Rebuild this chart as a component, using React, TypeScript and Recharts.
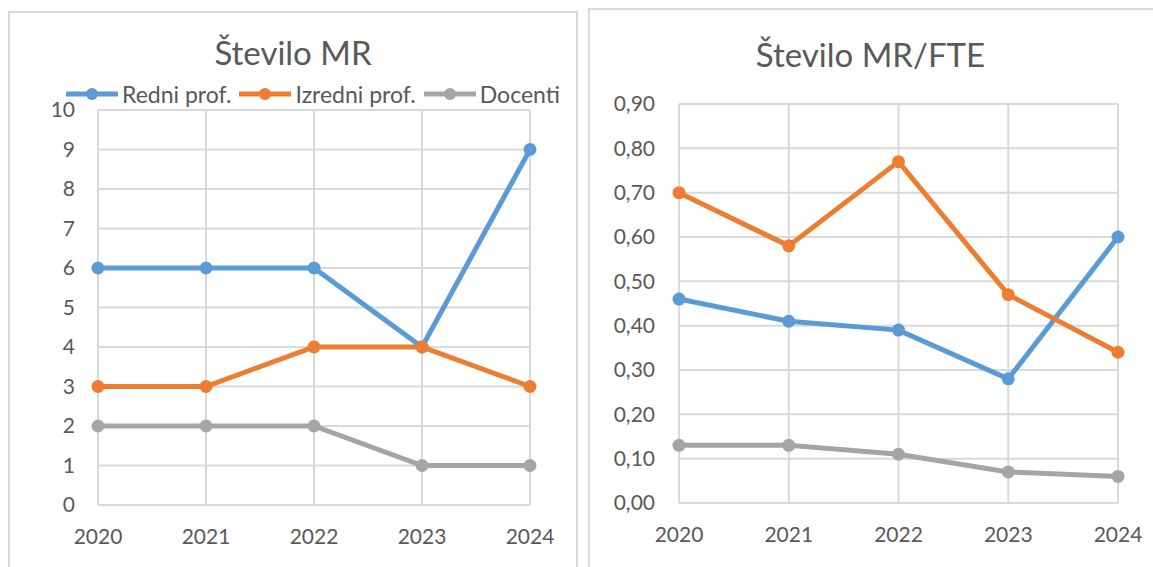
import { ReactElement } from "react";
import { CartesianGrid, Line, LineChart, XAxis, YAxis } from "recharts";

const years = ["2020", "2021", "2022", "2023", "2024"];

const redniCount = [6, 6, 6, 4, 9];
const izredniCount = [3, 3, 4, 4, 3];
const docentiCount = [2, 2, 2, 1, 1];

const redniFte = [0.46, 0.41, 0.39, 0.28, 0.6];
const izredniFte = [0.7, 0.58, 0.77, 0.47, 0.34];
const docentiFte = [0.13, 0.13, 0.11, 0.07, 0.06];

const countTicks = [0, 1, 2, 3, 4, 5, 6, 7, 8, 9, 10];
const fteTicks = [0, 0.1, 0.2, 0.3, 0.4, 0.5, 0.6, 0.7, 0.8, 0.9];

const seriesNames = ["Redni prof.", "Izredni prof.", "Docenti"];
const colors = ["#5B9BD5", "#ED7D31", "#A5A5A5"];
const keys = ["redni", "izredni", "docenti"];

const font = "Lato, 'Open Sans', sans-serif";
const textColor = "#595959";
const gridColor = "#D9D9D9";

const countData = years.map((y, i) => ({
  year: y,
  redni: redniCount[i],
  izredni: izredniCount[i],
  docenti: docentiCount[i],
}));

const fteData = years.map((y, i) => ({
  year: y,
  redni: redniFte[i],
  izredni: izredniFte[i],
  docenti: docentiFte[i],
}));

const tickStyle = { fill: textColor, fontSize: 21, fontFamily: font };

function LegendRow(): ReactElement {
  return (
    <div style={{ position: "absolute", left: 66, top: 80, display: "flex", alignItems: "center", fontFamily: font, fontSize: 23, color: textColor, whiteSpace: "nowrap" }}>
      {seriesNames.map((n, i) => (
        <div key={n} style={{ display: "flex", alignItems: "center", marginRight: 8 }}>
          <svg width={52} height={14} style={{ marginRight: 4 }}>
            <line x1={0} y1={7} x2={52} y2={7} stroke={colors[i]} strokeWidth={5} strokeLinecap="round" />
            <circle cx={26} cy={7} r={6} fill={colors[i]} />
          </svg>
          <span>{n}</span>
        </div>
      ))}
    </div>
  );
}

function seriesLines() {
  return keys.map((k, i) => (
    <Line
      key={k}
      type="linear"
      dataKey={k}
      name={seriesNames[i]}
      stroke={colors[i]}
      strokeWidth={5}
      dot={{ r: 6.5, fill: colors[i], stroke: colors[i], strokeWidth: 0 }}
      activeDot={false}
      isAnimationActive={false}
    />
  ));
}

export default function App(): ReactElement {
  const box = { position: "absolute" as const, border: `2px solid ${gridColor}`, boxSizing: "border-box" as const, background: "#fff" };
  const title = { position: "absolute" as const, fontFamily: font, fontSize: 33, color: textColor, textAlign: "center" as const, whiteSpace: "nowrap" as const, lineHeight: "40px" };
  return (
    <div style={{ position: "absolute", left: 0, top: 0, width: 1153, height: 567, overflow: "hidden", background: "#fff" }}>
      <div style={{ ...box, left: 8, top: 11, width: 570, height: 580 }} />
      <div style={{ ...box, left: 588, top: 8, width: 580, height: 580 }} />

      <div style={{ ...title, left: 8, width: 570, top: 32 }}>Število MR</div>
      <div style={{ ...title, left: 588, width: 565, top: 34 }}>Število MR/FTE</div>

      <div style={{ position: "absolute", left: 0, top: 0 }}>
        <LineChart width={578} height={567} data={countData} margin={{ top: 110, right: 48, bottom: 22, left: 38 }}>
          <CartesianGrid stroke={gridColor} strokeWidth={2} />
          <XAxis dataKey="year" axisLine={false} tickLine={false} tickSize={0} tickMargin={24} height={40} tick={tickStyle} interval={0} />
          <YAxis domain={[0, 10]} ticks={countTicks} axisLine={false} tickLine={false} tickSize={0} tickMargin={23} width={60} tick={tickStyle} interval={0} />
          {seriesLines()}
        </LineChart>
      </div>
      <LegendRow />

      <div style={{ position: "absolute", left: 588, top: 0 }}>
        <LineChart width={565} height={567} data={fteData} margin={{ top: 104, right: 35, bottom: 24, left: 31 }}>
          <CartesianGrid stroke={gridColor} strokeWidth={2} />
          <XAxis dataKey="year" axisLine={false} tickLine={false} tickSize={0} tickMargin={24} height={40} tick={tickStyle} interval={0} />
          <YAxis
            domain={[0, 0.9]}
            ticks={fteTicks}
            axisLine={false}
            tickLine={false}
            tickSize={0}
            tickMargin={24}
            width={60}
            tick={tickStyle}
            interval={0}
            tickFormatter={(v: number) => v.toFixed(2).replace(".", ",")}
          />
          {seriesLines()}
        </LineChart>
      </div>
    </div>
  );
}
